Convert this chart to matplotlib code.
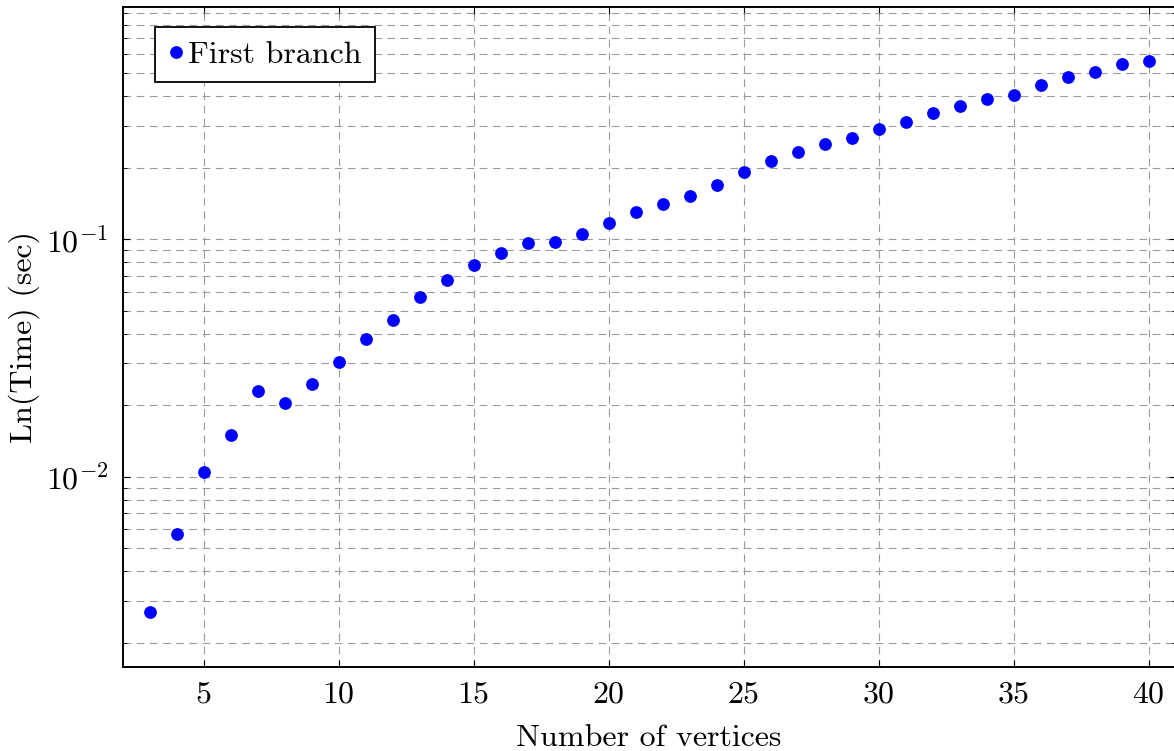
import matplotlib
matplotlib.use("Agg")
import matplotlib.pyplot as plt
import numpy as np
from matplotlib.ticker import LogLocator, NullFormatter

# run time of the first branch against graph size
vertices = list(range(3, 41))
times = [
    0.002686, 0.00574, 0.01045, 0.01503, 0.02284, 0.02033, 0.02455, 0.03034,
    0.03786, 0.04571, 0.05689, 0.06748, 0.07782, 0.08748, 0.09601, 0.09694,
    0.1055, 0.1172, 0.1302, 0.1412, 0.1515, 0.1690, 0.1910, 0.2127,
    0.2327, 0.2513, 0.2660, 0.2923, 0.3129, 0.3389, 0.3641, 0.3907,
    0.4035, 0.4447, 0.4805, 0.5066, 0.5475, 0.5610,
]
x_ticks = [5, 10, 15, 20, 25, 30, 35, 40]

plt.rcParams['font.family'] = 'serif'
plt.rcParams['font.serif'] = ['cmr10']
plt.rcParams['mathtext.fontset'] = 'cm'
plt.rcParams['axes.formatter.use_mathtext'] = True
plt.rcParams['lines.scale_dashes'] = False

W, H = 1174, 751
fig = plt.figure(figsize=(W / 100, H / 100), dpi=100)
# axes frame in pixels: left 122.5, right ~1175.5 (just off the image), top 6.5, bottom 667
left, right, top, bottom = 122.5, 1175.5, 6.5, 667
ax = fig.add_axes([left / W, (H - bottom) / H, (right - left) / W, (bottom - top) / H])

ax.plot(vertices, times, linestyle='none', marker='o', markersize=9.2,
        color='#0000ff', markeredgewidth=0, label='First branch', zorder=3)

ax.set_yscale('log')
ax.set_xlim(2, 41)
ax.set_ylim(0.001579, 0.9546)
ax.set_xticks(x_ticks)
ax.yaxis.set_major_locator(LogLocator(base=10))
ax.yaxis.set_minor_locator(LogLocator(base=10, subs=np.arange(2, 10)))
ax.yaxis.set_minor_formatter(NullFormatter())

grid_kw = dict(color='#9a9a9a', linestyle=(0, (5.5, 4)), linewidth=0.8)
ax.grid(True, which='major', axis='both', **grid_kw)
ax.grid(True, which='minor', axis='y', **grid_kw)
ax.set_axisbelow(True)

ax.tick_params(which='both', direction='in', top=True, right=True,
               labelsize=23, pad=10)
ax.tick_params(which='major', length=5, width=0.8)
ax.tick_params(which='minor', length=3, width=0.6)
for s in ax.spines.values():
    s.set_linewidth(1.4)

ax.set_xlabel('Number of vertices', fontsize=23, labelpad=12)
ax.set_ylabel('Ln(Time) (sec)', fontsize=23, labelpad=4)

leg = ax.legend(loc='upper left',
                bbox_to_anchor=((155 - left) / (right - left), (bottom - 27) / (bottom - top)),
                borderaxespad=0, fontsize=23, handlelength=0.45, handletextpad=0.15,
                borderpad=0.42, fancybox=False, framealpha=1, edgecolor='black',
                markerscale=1.0)
leg.get_frame().set_linewidth(1.3)

fig.savefig('out.png', dpi=100)
